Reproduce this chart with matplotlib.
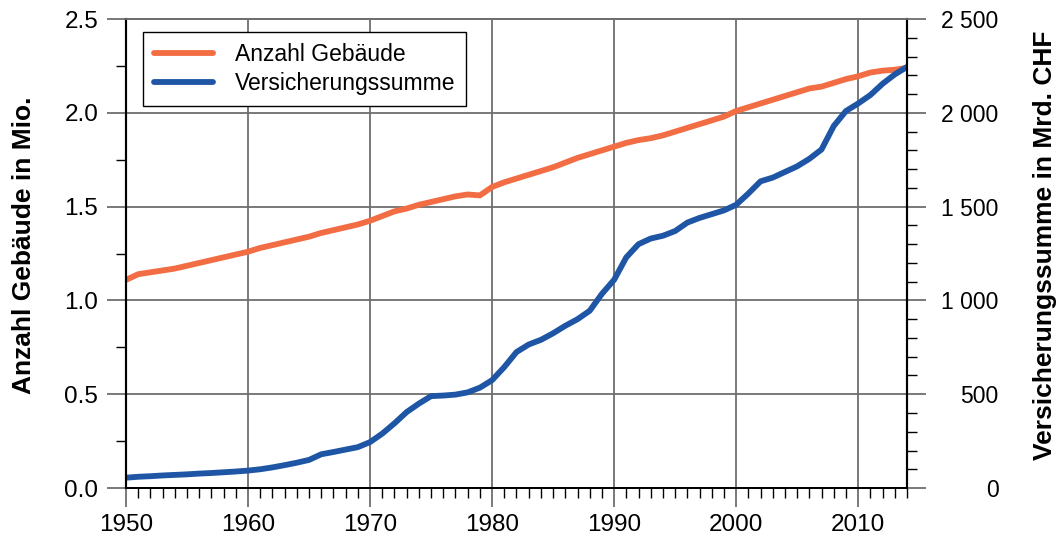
import matplotlib.pyplot as plt
from matplotlib.ticker import MultipleLocator, FuncFormatter

plt.rcParams['font.family'] = ['Liberation Sans', 'DejaVu Sans']

years = list(range(1950, 2015))

# Anzahl Gebäude in Mio.
gebaeude = [1.11, 1.14, 1.15, 1.16, 1.17, 1.185, 1.20, 1.215, 1.23, 1.245,
            1.26, 1.28, 1.295, 1.31, 1.325, 1.34, 1.36, 1.375, 1.39, 1.405,
            1.425, 1.45, 1.475, 1.49, 1.51, 1.525, 1.54, 1.555, 1.565, 1.56,
            1.605, 1.63, 1.65, 1.67, 1.69, 1.71, 1.735, 1.76, 1.78, 1.80,
            1.82, 1.84, 1.855, 1.865, 1.88, 1.90, 1.92, 1.94, 1.96, 1.98,
            2.01, 2.03, 2.05, 2.07, 2.09, 2.11, 2.13, 2.14, 2.16, 2.18,
            2.195, 2.215, 2.225, 2.23, 2.24]

# Versicherungssumme in Mrd. CHF
summe = [55, 60, 63, 67, 70, 73, 77, 80, 84, 88,
         93, 100, 110, 122, 135, 150, 180, 192, 205, 218,
         245, 290, 345, 405, 450, 490, 493, 498, 510, 535,
         575, 645, 725, 765, 790, 825, 865, 900, 945, 1035,
         1110, 1230, 1300, 1330, 1345, 1370, 1415, 1440, 1460, 1480,
         1510, 1570, 1635, 1655, 1685, 1715, 1755, 1805, 1930, 2010,
         2050, 2095, 2155, 2205, 2245]

orange = '#F26D43'
blue = '#1E56A5'
grid_col = '#6e6e6e'

fig = plt.figure(figsize=(10.61, 5.44), dpi=100)
ax1 = fig.add_axes([0.1188, 0.1029, 0.736, 0.862])
ax2 = ax1.twinx()

l1, = ax1.plot(years, gebaeude, color=orange, lw=4.2, solid_capstyle='round',
               label='Anzahl Gebäude')
l2, = ax2.plot(years, summe, color=blue, lw=4.2, solid_capstyle='round',
               label='Versicherungssumme')

ax1.set_xlim(1950, 2014)
ax1.set_ylim(0, 2.5)
ax2.set_ylim(0, 2500)

ax1.xaxis.set_major_locator(MultipleLocator(10))
ax1.xaxis.set_minor_locator(MultipleLocator(1))
ax1.yaxis.set_major_locator(MultipleLocator(0.5))
ax1.yaxis.set_minor_locator(MultipleLocator(0.25))
ax1.yaxis.set_major_formatter(FuncFormatter(lambda v, p: f'{v:.1f}'))
ax2.yaxis.set_major_locator(MultipleLocator(500))
ax2.yaxis.set_minor_locator(MultipleLocator(100))
ax2.yaxis.set_major_formatter(
    FuncFormatter(lambda v, p: f'{int(v):,}'.replace(',', ' ')))

ax1.grid(True, which='major', color=grid_col, lw=1.3)
ax1.set_axisbelow(True)

ax1.tick_params(axis='x', which='major', length=14, width=1.3, color=grid_col,
                labelsize=17.5, pad=5)
ax1.tick_params(axis='x', which='minor', length=7, width=1, color='black')
ax1.tick_params(axis='y', which='major', length=14, width=1.3, color=grid_col,
                labelsize=17.5, pad=6)
ax1.tick_params(axis='y', which='minor', length=7, width=1, color='black')
ax2.tick_params(axis='y', which='major', length=14, width=1.3, color=grid_col,
                labelsize=16.5, pad=52)
ax2.tick_params(axis='y', which='minor', length=7, width=1, color='black')

fig.canvas.draw()
for lab in ax2.get_yticklabels():
    lab.set_horizontalalignment('right')

for ax in (ax1, ax2):
    ax.spines['left'].set_color('black')
    ax.spines['right'].set_color('black')
    ax.spines['left'].set_linewidth(1.5)
    ax.spines['right'].set_linewidth(1.5)
    ax.spines['top'].set_color(grid_col)
    ax.spines['top'].set_linewidth(1.3)
    ax.spines['bottom'].set_color('black')
    ax.spines['bottom'].set_linewidth(1.3)

ax1.set_ylabel('Anzahl Gebäude in Mio.', fontsize=19, fontweight='bold')
ax1.yaxis.set_label_coords(-0.115, 0.518)
ax2.set_ylabel('Versicherungssumme in Mrd. CHF', fontsize=19,
               fontweight='bold', rotation=90)
ax2.yaxis.set_label_coords(1.161, 0.518)

leg = ax2.legend([l1, l2], ['Anzahl Gebäude', 'Versicherungssumme'],
                 loc='upper left', bbox_to_anchor=(0.022, 0.972),
                 borderaxespad=0, fontsize=16.5, handlelength=2.6,
                 handletextpad=0.95, fancybox=False, framealpha=1,
                 edgecolor='black', borderpad=0.45, labelspacing=0.3)
leg.get_frame().set_linewidth(1.0)

fig.savefig('out.png', dpi=100)
